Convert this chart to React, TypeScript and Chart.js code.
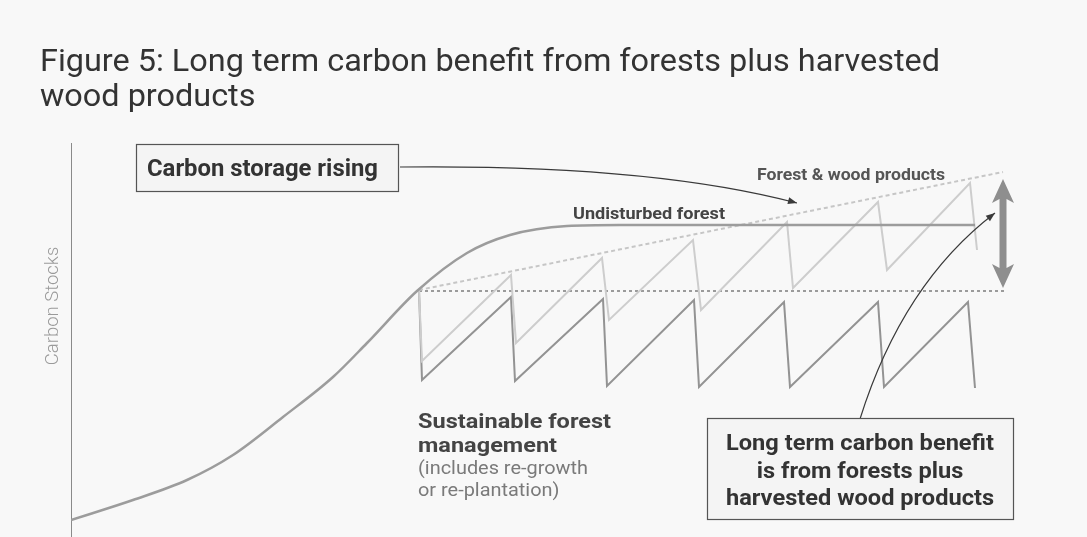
import React, { useEffect, useRef } from "react";
import { Chart, registerables } from "chart.js";

Chart.register(...registerables);

// Undisturbed forest (sigmoid growth then plateau)
const undisturbedX = [0, 6.2, 11.6, 16.2, 21.2, 26.2, 29.6, 34.6, 39.6, 43.9, 49.6, 54.9, 90.4];
const undisturbedY = [4.25, 9.25, 14.25, 20.5, 30, 40, 48.5, 61.5, 71, 75.5, 77.75, 78, 78];

// Sustainable forest management sawtooth (forest only)
const sfmX = [34.8, 35.1, 44.0, 44.4, 53.2, 53.6, 62.3, 62.8, 71.3, 71.9, 80.7, 81.3, 89.7, 90.4];
const sfmY = [61.75, 39.25, 60, 39, 59.5, 37.75, 59.25, 37.5, 58.75, 37.5, 58.75, 37.5, 58.75, 37.25];

// Forest & wood products sawtooth
const fwpX = [34.8, 35.1, 44.0, 44.5, 53.1, 53.8, 62.2, 63.0, 71.6, 72.2, 80.7, 81.6, 89.9, 90.6];
const fwpY = [61.75, 44.0, 65.5, 48.5, 69.75, 54.25, 74.25, 56.75, 78.75, 62.25, 83.75, 66.75, 88.5, 71.75];

// Forest & wood products trend (dashed)
const trendX = [34.8, 93.2];
const trendY = [61.75, 91.25];

// Harvest start level (dashed)
const baseX = [34.8, 93.6];
const baseY = [61.5, 61.5];

const titleLines = ["Figure 5: Long term carbon benefit from forests plus harvested", "wood products"];
const yAxisLabel = "Carbon Stocks";
const storageLabel = "Carbon storage rising";
const undisturbedLabel = "Undisturbed forest";
const fwpLabel = "Forest & wood products";
const sfmLabelBold = ["Sustainable forest", "management"];
const sfmLabelNote = ["(includes re-growth", "or re-plantation)"];
const benefitLabel = ["Long term carbon benefit", "is from forests plus", "harvested wood products"];

const toPts = (xs: number[], ys: number[]) => xs.map((x, i) => ({ x, y: ys[i] }));

const FONT = "Roboto, 'Open Sans', 'DejaVu Sans', sans-serif";

// draw text with given font, horizontally scaled so the reference width is matched
const fitText = (
  ctx: CanvasRenderingContext2D,
  text: string,
  x: number,
  y: number,
  font: string,
  refText: string,
  targetW: number,
  align: "left" | "center" = "left"
) => {
  ctx.font = font;
  const w = ctx.measureText(refText).width;
  const sx = targetW / w;
  ctx.save();
  ctx.translate(x, y);
  ctx.scale(sx, 1);
  ctx.textAlign = align;
  ctx.fillText(text, 0, 0);
  ctx.restore();
};

const decorPlugin = {
  id: "decor",
  beforeDatasetsDraw(chart: any) {
    const { ctx } = chart;
    const xs = chart.scales.x;
    const ys = chart.scales.y;
    ctx.save();
    ctx.strokeStyle = "#8a8a8a";
    ctx.lineWidth = 1;
    ctx.beginPath();
    ctx.moveTo(xs.getPixelForValue(0) + 0.5, ys.getPixelForValue(98.5));
    ctx.lineTo(xs.getPixelForValue(0) + 0.5, ys.getPixelForValue(0));
    ctx.stroke();
    ctx.restore();
  },
  afterDatasetsDraw(chart: any) {
    const { ctx } = chart;
    const xs = chart.scales.x;
    const ys = chart.scales.y;
    const X = (v: number) => xs.getPixelForValue(v);
    const Y = (v: number) => ys.getPixelForValue(v);
    ctx.save();

    // Title
    ctx.fillStyle = "#333";
    ctx.textBaseline = "alphabetic";
    const tf = `400 31px ${FONT}`;
    fitText(ctx, titleLines[0], 40, 71, tf, titleLines[0], 900);
    fitText(ctx, titleLines[1], 40, 106, tf, titleLines[0], 900);

    // y axis label
    ctx.save();
    ctx.translate(53, 306);
    ctx.rotate(-Math.PI / 2);
    ctx.fillStyle = "#9a9a9a";
    ctx.font = `300 18.5px ${FONT}`;
    ctx.textAlign = "center";
    ctx.textBaseline = "middle";
    ctx.fillText(yAxisLabel, 0, 0);
    ctx.restore();

    // Double headed arrow
    const ax = X(93.2);
    const aTop = Y(89.5);
    const aBot = Y(62.25);
    const hw = 11, hl = 24, sw = 3.5;
    ctx.fillStyle = "#8e8e8e";
    ctx.beginPath();
    ctx.moveTo(ax, aTop);
    ctx.lineTo(ax + hw, aTop + hl);
    ctx.lineTo(ax + sw, aTop + hl - 4);
    ctx.lineTo(ax + sw, aBot - hl + 4);
    ctx.lineTo(ax + hw, aBot - hl);
    ctx.lineTo(ax, aBot);
    ctx.lineTo(ax - hw, aBot - hl);
    ctx.lineTo(ax - sw, aBot - hl + 4);
    ctx.lineTo(ax - sw, aTop + hl - 4);
    ctx.lineTo(ax - hw, aTop + hl);
    ctx.closePath();
    ctx.fill();

    // curved arrows
    const curve = (s: number[], c: number[], e: number[]) => {
      const sx = X(s[0]), sy = Y(s[1]), cx = X(c[0]), cy = Y(c[1]), ex = X(e[0]), ey = Y(e[1]);
      ctx.strokeStyle = "#3a3a3a";
      ctx.lineWidth = 1.2;
      ctx.beginPath();
      ctx.moveTo(sx, sy);
      ctx.quadraticCurveTo(cx, cy, ex, ey);
      ctx.stroke();
      const ang = Math.atan2(ey - cy, ex - cx);
      const L = 9, Wd = 3.5;
      ctx.fillStyle = "#3a3a3a";
      ctx.beginPath();
      ctx.moveTo(ex, ey);
      ctx.lineTo(ex - L * Math.cos(ang) + Wd * Math.sin(ang), ey - L * Math.sin(ang) - Wd * Math.cos(ang));
      ctx.lineTo(ex - L * Math.cos(ang) - Wd * Math.sin(ang), ey - L * Math.sin(ang) + Wd * Math.cos(ang));
      ctx.closePath();
      ctx.fill();
    };
    curve([32.9, 92.5], [57.9, 93.2], [72.6, 83.5]);
    curve([78.9, 29.5], [83.15, 63.4], [92.4, 81]);

    const box = (x1: number, y1: number, x2: number, y2: number) => {
      ctx.fillStyle = "#f4f4f4";
      ctx.fillRect(x1, y1, x2 - x1, y2 - y1);
      ctx.strokeStyle = "#555";
      ctx.lineWidth = 1.2;
      ctx.strokeRect(x1 + 0.5, y1 + 0.5, x2 - x1, y2 - y1);
    };

    // Box: carbon storage rising
    box(X(6.5), Y(98.25), X(32.7), Y(86.5));
    ctx.fillStyle = "#333";
    ctx.textBaseline = "alphabetic";
    fitText(ctx, storageLabel, X(7.6), Y(90.2), `700 24px ${FONT}`, storageLabel, 231);

    // labels on lines
    ctx.fillStyle = "#444";
    fitText(ctx, undisturbedLabel, X(50.2), Y(79.6), `700 16.5px ${FONT}`, undisturbedLabel, 152);
    ctx.fillStyle = "#555";
    fitText(ctx, fwpLabel, X(68.6), Y(89.3), `700 16.5px ${FONT}`, fwpLabel, 188);

    // Sustainable forest management
    ctx.fillStyle = "#444";
    const sb = `700 21px ${FONT}`;
    fitText(ctx, sfmLabelBold[0], X(34.7), Y(27.25), sb, sfmLabelBold[0], 193);
    fitText(ctx, sfmLabelBold[1], X(34.7), Y(21.25), sb, sfmLabelBold[0], 193);
    ctx.fillStyle = "#7a7a7a";
    const sn = `400 17.5px ${FONT}`;
    fitText(ctx, sfmLabelNote[0], X(34.7), Y(15.75), sn, sfmLabelNote[0], 170);
    fitText(ctx, sfmLabelNote[1], X(34.7), Y(10.25), sn, sfmLabelNote[0], 170);

    // Benefit box
    box(X(63.6), Y(29.75), X(94.2), Y(4.5));
    ctx.fillStyle = "#333";
    const bc = (X(63.6) + X(94.2)) / 2;
    const bf = `700 21.5px ${FONT}`;
    fitText(ctx, benefitLabel[0], bc, Y(21.75), bf, benefitLabel[0], 268, "center");
    fitText(ctx, benefitLabel[1], bc, Y(14.75), bf, benefitLabel[0], 268, "center");
    fitText(ctx, benefitLabel[2], bc, Y(8), bf, benefitLabel[0], 268, "center");

    ctx.restore();
  },
};

export default function App() {
  const ref = useRef<HTMLCanvasElement | null>(null);
  useEffect(() => {
    if (!ref.current) return;
    const chart = new Chart(ref.current, {
      type: "scatter",
      data: {
        datasets: [
          {
            label: "Undisturbed forest",
            data: toPts(undisturbedX, undisturbedY),
            showLine: true,
            borderColor: "#9c9c9c",
            borderWidth: 2.5,
            pointRadius: 0,
            cubicInterpolationMode: "monotone",
          },
          {
            label: "Forest & wood products",
            data: toPts(fwpX, fwpY),
            showLine: true,
            borderColor: "#cdcdcd",
            borderWidth: 2,
            pointRadius: 0,
          },
          {
            label: "Sustainable forest management",
            data: toPts(sfmX, sfmY),
            showLine: true,
            borderColor: "#939393",
            borderWidth: 2,
            pointRadius: 0,
          },
          {
            label: "Forest & wood products trend",
            data: toPts(trendX, trendY),
            showLine: true,
            borderColor: "#c6c6c6",
            borderWidth: 2,
            borderDash: [4, 3],
            pointRadius: 0,
          },
          {
            label: "Harvest level",
            data: toPts(baseX, baseY),
            showLine: true,
            borderColor: "#7c7c7c",
            borderWidth: 1.5,
            borderDash: [3, 3],
            pointRadius: 0,
          },
        ],
      } as any,
      options: {
        animation: false,
        responsive: false,
        layout: { padding: { left: 71, right: 16, top: 137, bottom: 0 } },
        plugins: { legend: { display: false }, tooltip: { enabled: false }, title: { display: false } },
        scales: {
          x: { type: "linear", min: 0, max: 100, display: false },
          y: { type: "linear", min: 0, max: 100, display: false },
        },
      } as any,
      plugins: [decorPlugin],
    });
    return () => chart.destroy();
  }, []);
  return (
    <div style={{ position: "fixed", left: 0, top: 0, width: 1087, height: 537, background: "#f8f8f8" }}>
      <canvas ref={ref} width={1087} height={537} style={{ display: "block" }} />
    </div>
  );
}
